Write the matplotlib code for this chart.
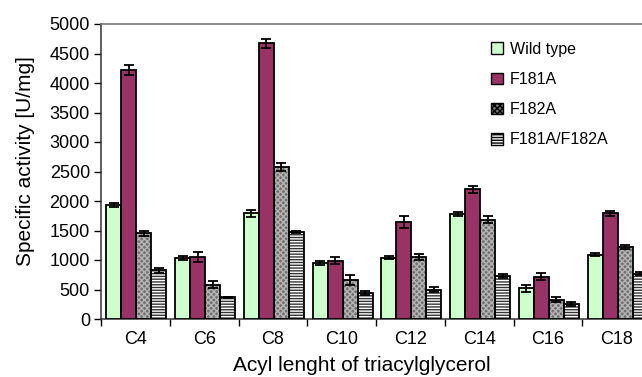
import numpy as np
import matplotlib.pyplot as plt
from matplotlib.patches import Patch

plt.rcParams['font.family'] = ['Liberation Sans', 'DejaVu Sans']

# data
chains = ['C4', 'C6', 'C8', 'C10', 'C12', 'C14', 'C16', 'C18']
wild_type = [1930, 1030, 1790, 950, 1040, 1780, 520, 1090]
f181a = [4220, 1050, 4670, 990, 1640, 2200, 720, 1790]
f182a = [1450, 580, 2580, 660, 1050, 1680, 330, 1220]
double = [825, 370, 1480, 440, 500, 730, 250, 770]

wild_err = [40, 30, 60, 40, 30, 30, 60, 30]
f181a_err = [90, 90, 70, 60, 100, 60, 60, 40]
f182a_err = [40, 60, 70, 80, 50, 60, 40, 40]
double_err = [40, 10, 20, 40, 40, 40, 30, 20]

labels = ['Wild type', 'F181A', 'F182A', 'F181A/F182A']
series = [wild_type, f181a, f182a, double]
errors = [wild_err, f181a_err, f182a_err, double_err]
# (face, hatch, hatch colour)
styles = [('#ccffcc', None, None),
          ('#993366', None, None),
          ('#707070', 'xxxxxx', '#b4b4b4'),
          ('#ffffff', '------', '#333333')]

fig = plt.figure(figsize=(6.42, 3.77), dpi=100)
ax = fig.add_axes([101 / 642, 1 - 319 / 377, 550 / 642, 295 / 377])

x = np.arange(len(chains))
w = 0.218
for k, (vals, errs, (fc, hatch, hc)) in enumerate(zip(series, errors, styles)):
    pos = x + (k - 1.5) * w + 0.015
    if hatch:
        ax.bar(pos, vals, w, color=fc, hatch=hatch, edgecolor=hc, lw=0, zorder=2)
        ax.bar(pos, vals, w, fill=False, edgecolor='black', lw=1.3, zorder=3)
    else:
        ax.bar(pos, vals, w, color=fc, edgecolor='black', lw=1.3, zorder=3)
    ax.errorbar(pos, vals, yerr=errs, fmt='none', ecolor='black',
                elinewidth=1.3, capsize=3.5, capthick=1.3, zorder=4)

ax.set_xlim(-0.5, len(chains) - 0.5)
ax.set_ylim(0, 5000)
ax.set_yticks(np.arange(0, 5001, 500))
ax.set_xticks(np.arange(-0.5, len(chains)), [])
ax.set_xticks(x, chains, minor=True)
ax.tick_params(axis='x', which='major', length=5, width=1, direction='out')
ax.tick_params(axis='x', which='minor', length=0, pad=9, labelsize=13)
ax.tick_params(axis='y', length=5, width=1, direction='out', pad=3, labelsize=13)

for s in ['left', 'bottom']:
    ax.spines[s].set_color('#333333')
    ax.spines[s].set_linewidth(1.1)
ax.spines['top'].set_color('#777777')
ax.spines['top'].set_linewidth(1.2)
ax.spines['right'].set_visible(False)

ax.set_ylabel('Specific activity [U/mg]', fontsize=15)
ax.yaxis.set_label_coords(-0.12, 0.536)
ax.set_xlabel('Acyl lenght of triacylglycerol', fontsize=15)
ax.xaxis.set_label_coords(0.475, -0.125)

handles = []
for fc, hatch, hc in styles:
    handles.append(Patch(facecolor=fc, hatch=hatch, edgecolor='black', lw=1))
fig.legend(handles, labels, loc='upper left', bbox_to_anchor=(491 / 642, 0.889),
           frameon=False, fontsize=11.5, borderpad=0, borderaxespad=0,
           handlelength=0.75, handleheight=0.75, handletextpad=0.45,
           labelspacing=0.95)

fig.savefig('out.png', dpi=100)
